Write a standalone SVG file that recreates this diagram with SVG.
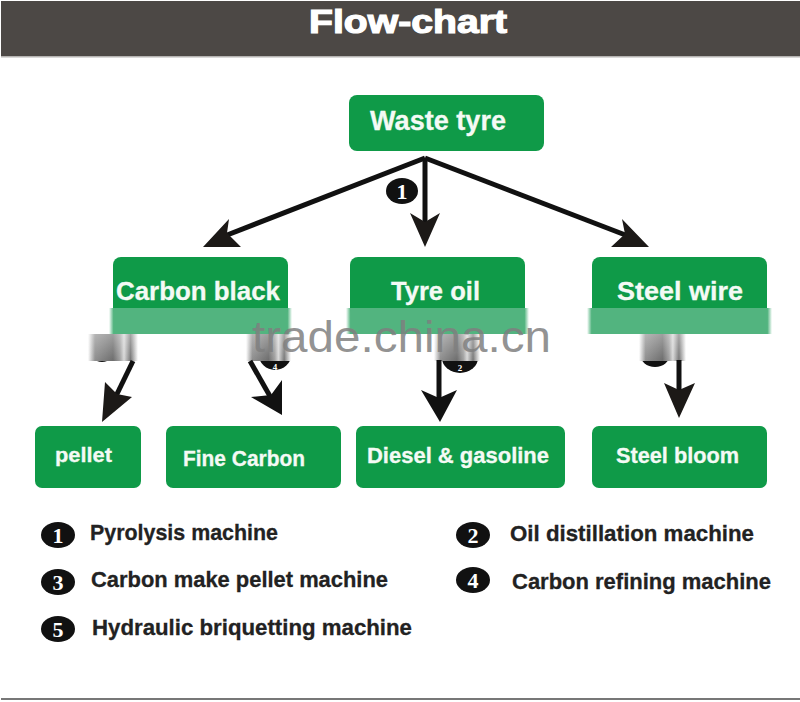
<svg xmlns="http://www.w3.org/2000/svg" width="800" height="702" viewBox="0 0 800 702">
<style>
.box{fill:#0f9a48}
.lbl{font-family:"Liberation Sans",Arial,sans-serif;font-weight:700;fill:#f4faf5;text-anchor:start;stroke:#f4faf5;stroke-width:.3}
.leg{font-family:"Liberation Sans",Arial,sans-serif;font-weight:700;fill:#222;font-size:22.5px;stroke:#222;stroke-width:.3}
.num{font-family:"Liberation Serif",serif;font-weight:700;fill:#fff;text-anchor:middle;font-size:22px}
.line{stroke:#111;fill:none;stroke-width:5}
.head{fill:#1c1917}
.badge{fill:#111}
</style>
<defs>
<linearGradient id="sm"><stop offset="0" stop-color="#fff"/><stop offset=".14" stop-color="#8e8e8e"/><stop offset=".5" stop-color="#6d6d6d"/><stop offset=".64" stop-color="#a0a0a0"/><stop offset=".72" stop-color="#d8d8d8"/><stop offset=".85" stop-color="#777"/><stop offset="1" stop-color="#fff"/></linearGradient>
<linearGradient id="sv" x1="0" y1="0" x2="0" y2="1"><stop offset="0" stop-color="#fff" stop-opacity=".35"/><stop offset="1" stop-color="#fff" stop-opacity="0"/></linearGradient>
<linearGradient id="bf"><stop offset="0" stop-color="#52b47f" stop-opacity="0"/><stop offset=".025" stop-color="#52b47f"/><stop offset=".975" stop-color="#52b47f"/><stop offset="1" stop-color="#52b47f" stop-opacity="0"/></linearGradient>
</defs>
<rect width="800" height="702" fill="#fff"/>
<g id="header">
<rect x="1" y="1" width="799" height="55" fill="#4c4845"/>
<rect x="1" y="56" width="799" height="1.5" fill="#b5b3b1"/>
<text x="309" y="33" font-family="'Liberation Sans',Arial,sans-serif" font-weight="700" font-size="32.5" fill="#fff" stroke="#fff" stroke-width="1.2" textLength="198" lengthAdjust="spacingAndGlyphs">Flow-chart</text>
</g>
<rect x="1" y="698" width="799" height="2" fill="#777"/>
<g id="connectors">
<path class="line" d="M425 158L222 237"/><path class="line" d="M425 158V225"/><path class="line" d="M425 158L628 236"/>
<polygon class="head" points="203,247 229,219 227,233 241,247"/>
<polygon class="head" points="425,247 410,213 425,222 440,213"/>
<polygon class="head" points="649,247 622,219 625,234 611,247"/>
</g>
<g id="badge-1"><ellipse class="badge" cx="402" cy="191" rx="16" ry="13"/><text class="num" x="402" y="199">1</text></g>
<g id="lower-badges">
<ellipse class="badge" cx="102" cy="349" rx="13" ry="13"/>
<ellipse class="badge" cx="275" cy="355" rx="16" ry="15"/><text class="num" x="275" y="370" style="font-size:9px">4</text>
<ellipse class="badge" cx="460" cy="358" rx="18" ry="15"/><text class="num" x="460" y="371" style="font-size:9px">2</text>
<ellipse class="badge" cx="655" cy="354" rx="15" ry="13"/>
</g>
<g id="smears">
<rect x="88" y="334" width="50" height="27" fill="url(#sm)"/><rect x="246" y="334" width="45" height="27" fill="url(#sm)"/><rect x="434" y="334" width="46" height="27" fill="url(#sm)"/><rect x="639" y="334" width="47" height="27" fill="url(#sm)"/>
<rect x="88" y="334" width="50" height="27" fill="url(#sv)"/><rect x="246" y="334" width="45" height="27" fill="url(#sv)"/><rect x="434" y="334" width="46" height="27" fill="url(#sv)"/><rect x="639" y="334" width="47" height="27" fill="url(#sv)"/>
</g>
<g id="lower-connectors">
<path class="line" d="M133 361L116 396"/><polygon class="head" points="102,422 105,382 117,394 132,397"/>
<path class="line" d="M250 361L271 398"/><polygon fill="#111" points="282,415 282,380 271,395 251,397"/>
<path class="line" d="M439 360V400"/><polygon fill="#111" points="440,422 421,390 439,398 457,390"/>
<path class="line" d="M679 360V392"/><polygon class="head" points="679,418 664,383 679,390 695,383"/>
</g>
<g id="waste-tyre"><rect class="box" x="349" y="95" width="195" height="56" rx="8"/><text class="lbl" x="370" y="130" font-size="27" textLength="136" lengthAdjust="spacingAndGlyphs">Waste tyre</text></g>
<g id="carbon-black"><rect class="box" x="113" y="257" width="175" height="60" rx="8"/><rect x="109" y="308" width="183" height="26" fill="url(#bf)"/><text class="lbl" x="116" y="300" font-size="26.5" textLength="164" lengthAdjust="spacingAndGlyphs">Carbon black</text></g>
<g id="tyre-oil"><rect class="box" x="350" y="257" width="175" height="60" rx="8"/><rect x="346" y="308" width="183" height="26" fill="url(#bf)"/><text class="lbl" x="391" y="300" font-size="26.5" textLength="89" lengthAdjust="spacingAndGlyphs">Tyre oil</text></g>
<g id="steel-wire"><rect class="box" x="592" y="257" width="175" height="60" rx="8"/><rect x="587" y="308" width="185" height="26" fill="url(#bf)"/><text class="lbl" x="617" y="300" font-size="26.5" textLength="126" lengthAdjust="spacingAndGlyphs">Steel wire</text></g>
<g id="pellet"><rect class="box" x="35" y="426" width="106" height="62" rx="7"/><text class="lbl" x="55" y="462" font-size="21" textLength="57" lengthAdjust="spacingAndGlyphs">pellet</text></g>
<g id="fine-carbon"><rect class="box" x="166" y="426" width="175" height="62" rx="7"/><text class="lbl" x="183" y="466" font-size="21.5" textLength="122" lengthAdjust="spacingAndGlyphs">Fine Carbon</text></g>
<g id="diesel"><rect class="box" x="356" y="426" width="209" height="62" rx="7"/><text class="lbl" x="367" y="463" font-size="21.5" textLength="182" lengthAdjust="spacingAndGlyphs">Diesel &amp; gasoline</text></g>
<g id="steel-bloom"><rect class="box" x="592" y="426" width="175" height="62" rx="7"/><text class="lbl" x="616" y="463" font-size="21.5" textLength="123" lengthAdjust="spacingAndGlyphs">Steel bloom</text></g>
<text id="watermark" x="252" y="352" font-family="'Liberation Sans',Arial,sans-serif" font-size="45" fill="#7f7f7f" fill-opacity=".85" textLength="299" lengthAdjust="spacingAndGlyphs">trade.china.cn</text>
<g id="legend">
<ellipse class="badge" cx="58" cy="535" rx="17" ry="13"/><text class="num" x="58" y="543">1</text><text class="leg" x="90" y="540" textLength="188" lengthAdjust="spacingAndGlyphs">Pyrolysis machine</text>
<ellipse class="badge" cx="58" cy="582" rx="17" ry="13"/><text class="num" x="58" y="590">3</text><text class="leg" x="91" y="587" textLength="297" lengthAdjust="spacingAndGlyphs">Carbon make pellet machine</text>
<ellipse class="badge" cx="58" cy="629" rx="17" ry="13"/><text class="num" x="58" y="637">5</text><text class="leg" x="92" y="635" textLength="320" lengthAdjust="spacingAndGlyphs">Hydraulic briquetting machine</text>
<ellipse class="badge" cx="473" cy="535" rx="17" ry="13"/><text class="num" x="473" y="543">2</text><text class="leg" x="510" y="541" textLength="244" lengthAdjust="spacingAndGlyphs">Oil distillation machine</text>
<ellipse class="badge" cx="473" cy="580" rx="17" ry="13"/><text class="num" x="473" y="588">4</text><text class="leg" x="512" y="589" textLength="259" lengthAdjust="spacingAndGlyphs">Carbon refining machine</text>
</g>
</svg>
